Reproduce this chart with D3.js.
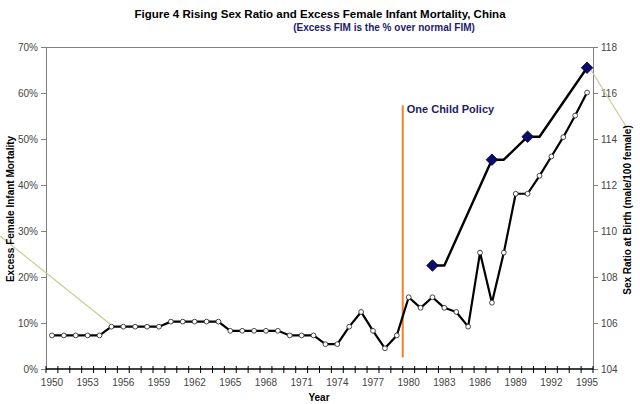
<!DOCTYPE html>
<html>
<head>
<meta charset="utf-8">
<script src="https://cdn.jsdelivr.net/npm/d3@7"></script>
<style>
  body { margin: 0; background: #fff; }
  text { font-family: "Liberation Sans", Arial, sans-serif; }
</style>
</head>
<body>
<div id="chart"></div>
<script>
// years on the category axis
const years = d3.range(1950, 1996);
const yearLabels = years.filter(y => (y - 1950) % 3 === 0);

// excess female infant mortality (share), one value per year
const fimValues = [
  0.073, 0.073, 0.073, 0.073, 0.073,
  0.092, 0.092, 0.092, 0.092, 0.092,
  0.103, 0.103, 0.103, 0.103, 0.103,
  0.083, 0.083, 0.083, 0.083, 0.083,
  0.073, 0.073, 0.073,
  0.054, 0.054, 0.092, 0.124, 0.083, 0.045, 0.073,
  0.156, 0.133, 0.156, 0.133, 0.124, 0.092,
  0.253, 0.144, 0.253,
  0.381, 0.381, 0.42, 0.462, 0.504, 0.551, 0.601
];

// sex ratio at birth (male per 100 female)
const srbYears = [1982, 1983, 1987, 1988, 1990, 1991, 1995];
const srbValues = [108.5, 108.5, 113.1, 113.1, 114.1, 114.1, 117.1];
const srbMarkerYears = [1982, 1987, 1990, 1995];

const leftTicks = [0, 0.1, 0.2, 0.3, 0.4, 0.5, 0.6, 0.7];
const rightTicks = [104, 106, 108, 110, 112, 114, 116, 118];

const policyYear = 1979.5;

const W = 640, H = 404;
const margin = { top: 47, right: 47, bottom: 35, left: 46 };
const width = W - margin.left - margin.right;
const height = H - margin.top - margin.bottom;

const svg = d3.select("#chart").append("svg")
    .attr("width", W)
    .attr("height", H);

const g = svg.append("g")
    .attr("transform", "translate(" + margin.left + "," + margin.top + ")");

// scales
const x = d3.scaleBand().domain(years).range([0, width]).padding(0);
const xc = yr => x(yr) + x.bandwidth() / 2;
const xLin = d3.scaleLinear().domain([1950, 1995]).range([xc(1950), xc(1995)]);
const yL = d3.scaleLinear().domain([0, 0.7]).range([height, 0]);
const yR = d3.scaleLinear().domain([104, 118]).range([height, 0]);

// top border
g.append("line")
    .attr("x1", 0).attr("x2", width)
    .attr("y1", 0.5).attr("y2", 0.5)
    .attr("stroke", "#808080");

// left axis
const leftAxis = g.append("g")
    .call(d3.axisLeft(yL).tickValues(leftTicks).tickFormat(d3.format(".0%")).tickSize(5).tickPadding(3));
leftAxis.select(".domain").attr("stroke", "#808080");
leftAxis.selectAll(".tick line").attr("stroke", "#808080");
leftAxis.selectAll("text").attr("fill", "#444").style("font-size", "10px");

// right axis
const rightAxis = g.append("g")
    .attr("transform", "translate(" + width + ",0)")
    .call(d3.axisRight(yR).tickValues(rightTicks).tickSize(5).tickPadding(3));
rightAxis.select(".domain").attr("stroke", "#808080");
rightAxis.selectAll(".tick line").attr("stroke", "#808080");
rightAxis.selectAll("text").attr("fill", "#444").style("font-size", "10px");

// bottom axis: ticks between the categories, crossing the line
const bottom = g.append("g").attr("transform", "translate(0," + height + ")");
bottom.append("line")
    .attr("x1", 0).attr("x2", width)
    .attr("stroke", "#000").attr("stroke-width", 1.3);
bottom.selectAll("line.tk")
    .data(years.concat([1996]))
    .enter().append("line")
    .attr("class", "tk")
    .attr("x1", d => d === 1996 ? width : x(d))
    .attr("x2", d => d === 1996 ? width : x(d))
    .attr("y1", -3).attr("y2", 4)
    .attr("stroke", "#000");
bottom.selectAll("text")
    .data(yearLabels)
    .enter().append("text")
    .attr("x", d => xc(d))
    .attr("y", 17)
    .attr("text-anchor", "middle")
    .attr("fill", "#444")
    .style("font-size", "10px")
    .text(d => d);

// pale leader lines
svg.append("line")
    .attr("x1", 0).attr("y1", 236).attr("x2", 110).attr("y2", 324)
    .attr("stroke", "#c9cc92").attr("stroke-width", 1.2);
svg.append("line")
    .attr("x1", 591).attr("y1", 70).attr("x2", 627).attr("y2", 128)
    .attr("stroke", "#c9cc92").attr("stroke-width", 1.2);

// one child policy line
g.append("line")
    .attr("x1", xLin(policyYear)).attr("x2", xLin(policyYear))
    .attr("y1", yL(0.573)).attr("y2", yL(0.025))
    .attr("stroke", "#f0802a").attr("stroke-width", 2);
g.append("text")
    .attr("x", xLin(policyYear) + 4)
    .attr("y", yL(0.573) + 8)
    .attr("fill", "#1c1c6b")
    .style("font-size", "11px")
    .style("font-weight", "bold")
    .text("One Child Policy");

// excess FIM series
const fimData = years.map((yr, i) => ({ year: yr, value: fimValues[i] }));
g.append("path")
    .datum(fimData)
    .attr("fill", "none")
    .attr("stroke", "#000")
    .attr("stroke-width", 2.2)
    .attr("stroke-linejoin", "round")
    .attr("d", d3.line().x(d => xc(d.year)).y(d => yL(d.value)));
g.selectAll("circle.fim")
    .data(fimData)
    .enter().append("circle")
    .attr("class", "fim")
    .attr("cx", d => xc(d.year))
    .attr("cy", d => yL(d.value))
    .attr("r", 2.4)
    .attr("fill", "#fff")
    .attr("stroke", "#333")
    .attr("stroke-width", 0.9);

// sex ratio series
const srbData = srbYears.map((yr, i) => ({ year: yr, value: srbValues[i] }));
g.append("path")
    .datum(srbData)
    .attr("fill", "none")
    .attr("stroke", "#000")
    .attr("stroke-width", 2.4)
    .attr("stroke-linejoin", "round")
    .attr("d", d3.line().x(d => xc(d.year)).y(d => yR(d.value)));
g.selectAll("path.diamond")
    .data(srbData.filter(d => srbMarkerYears.includes(d.year)))
    .enter().append("path")
    .attr("class", "diamond")
    .attr("d", d3.symbol().type(d3.symbolDiamond2).size(85))
    .attr("transform", d => "translate(" + xc(d.year) + "," + yR(d.value) + ")")
    .attr("fill", "#0c0c6e")
    .attr("stroke", "#000033")
    .attr("stroke-width", 0.8);

// titles
svg.append("text")
    .attr("x", 320).attr("y", 18)
    .attr("text-anchor", "middle")
    .attr("fill", "#000")
    .style("font-size", "11.5px")
    .style("font-weight", "bold")
    .text("Figure 4 Rising Sex Ratio and Excess Female Infant Mortality, China");
svg.append("text")
    .attr("x", 384).attr("y", 31)
    .attr("text-anchor", "middle")
    .attr("fill", "#1c1c6b")
    .style("font-size", "10px")
    .style("font-weight", "bold")
    .text("(Excess FIM is the % over normal FIM)");

svg.append("text")
    .attr("transform", "translate(14,209) rotate(-90)")
    .attr("text-anchor", "middle")
    .attr("fill", "#000")
    .style("font-size", "10px")
    .style("font-weight", "bold")
    .text("Excess Female Infant Mortality");
svg.append("text")
    .attr("transform", "translate(631,210) rotate(-90)")
    .attr("text-anchor", "middle")
    .attr("fill", "#000")
    .style("font-size", "10px")
    .style("font-weight", "bold")
    .text("Sex Ratio at Birth (male/100 female)");
svg.append("text")
    .attr("x", 319).attr("y", 401)
    .attr("text-anchor", "middle")
    .attr("fill", "#000")
    .style("font-size", "10px")
    .style("font-weight", "bold")
    .text("Year");
</script>
</body>
</html>
